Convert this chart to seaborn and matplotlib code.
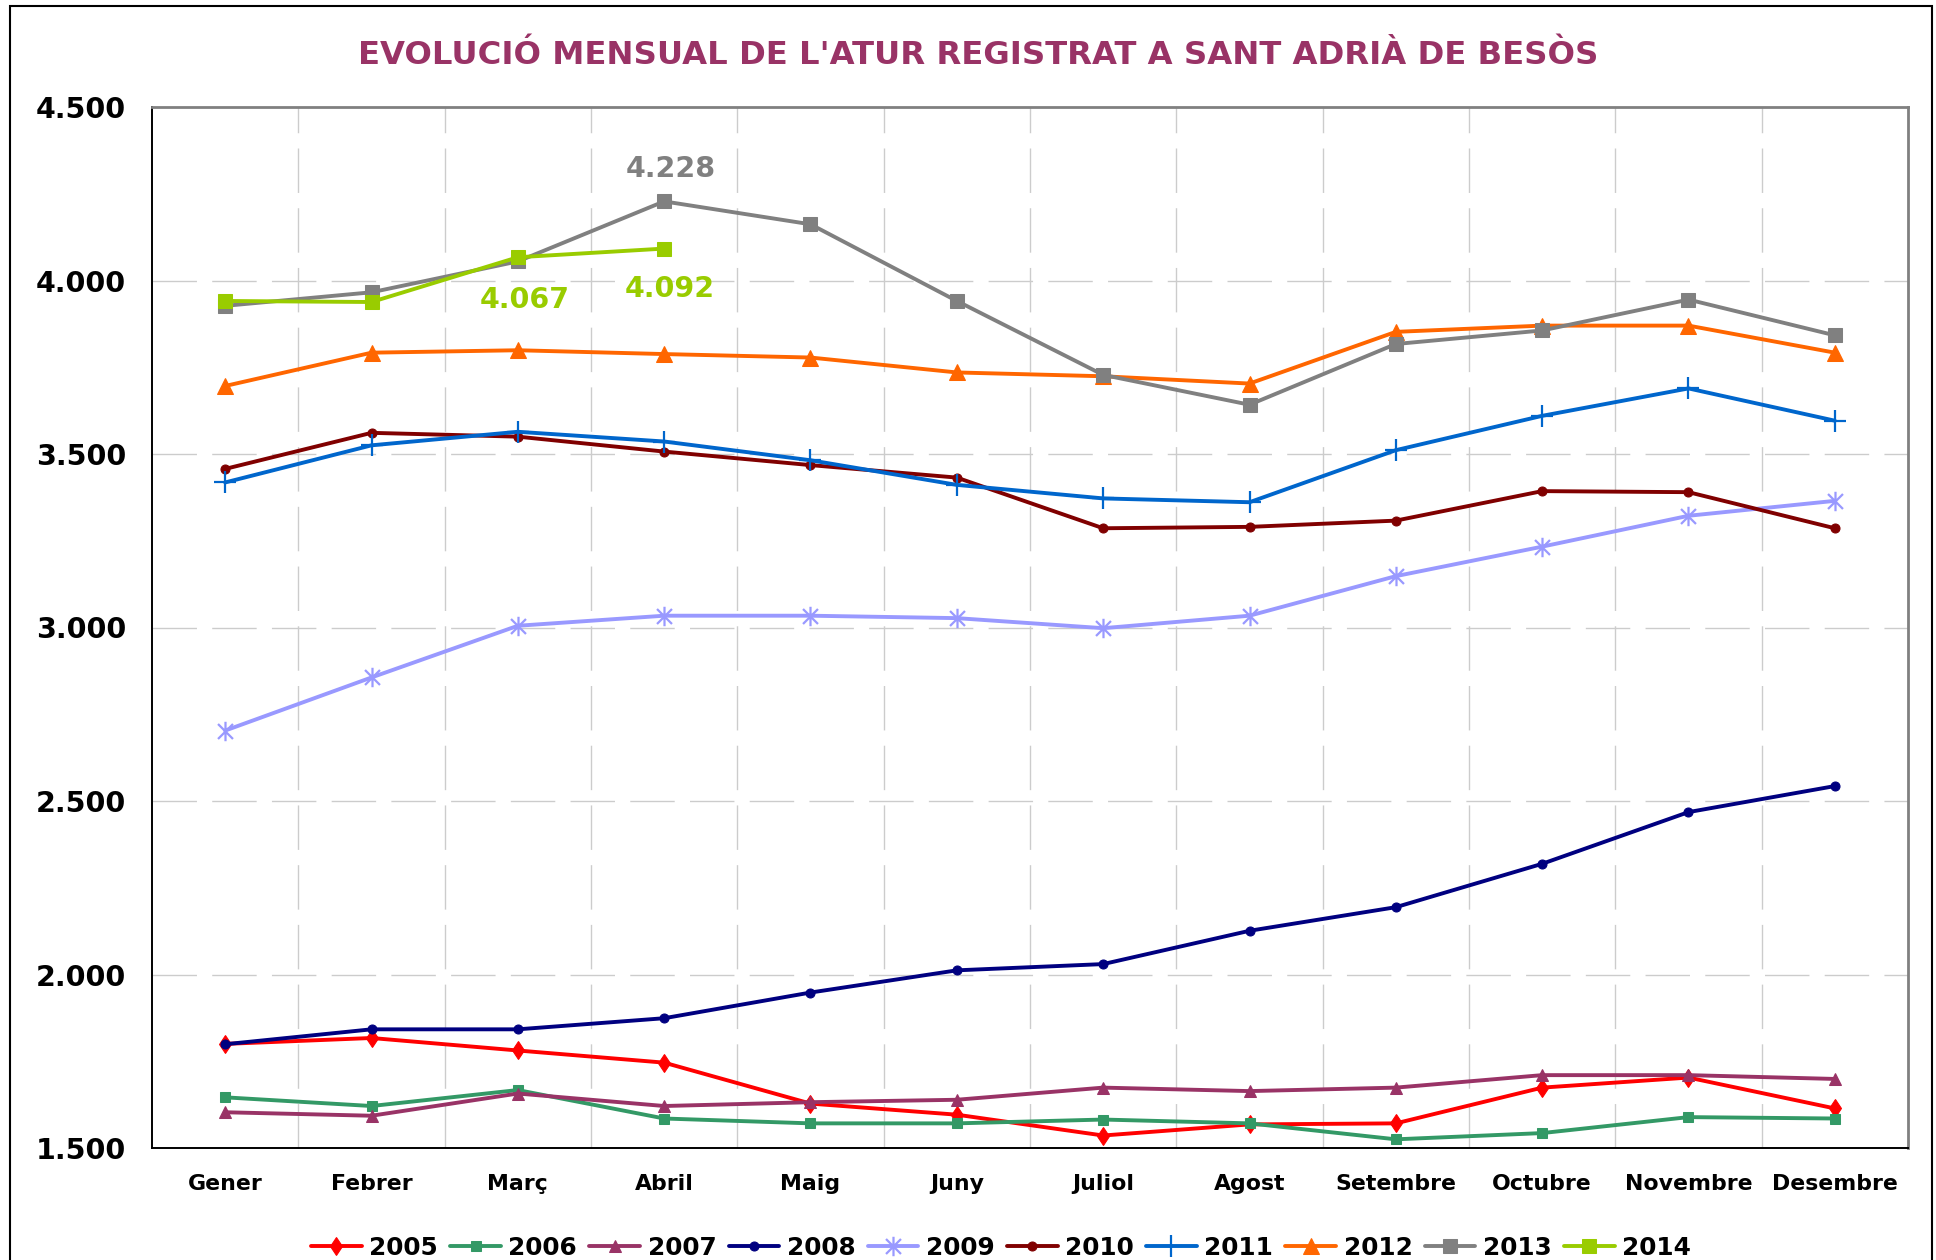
import numpy as np
import pandas as pd
import matplotlib
matplotlib.use("Agg")
import matplotlib.pyplot as plt
import seaborn as sns
from matplotlib.path import Path
from matplotlib.patches import Rectangle
from matplotlib.ticker import FuncFormatter, FixedLocator

# ---------------- data ----------------
months = ["Gener", "Febrer", "Març", "Abril", "Maig", "Juny", "Juliol",
          "Agost", "Setembre", "Octubre", "Novembre", "Desembre"]

y2005 = [1800, 1817, 1781, 1746, 1628, 1596, 1536, 1568, 1571, 1674, 1703, 1614]
y2006 = [1646, 1621, 1667, 1585, 1571, 1571, 1582, 1571, 1525, 1543, 1589, 1585]
y2007 = [1603, 1593, 1657, 1621, 1632, 1639, 1674, 1664, 1674, 1710, 1710, 1699]
y2008 = [1799, 1842, 1842, 1874, 1948, 2012, 2030, 2126, 2194, 2319, 2468, 2543]
y2009 = [2703, 2856, 3005, 3034, 3034, 3027, 2998, 3034, 3148, 3233, 3322, 3365]
y2010 = [3457, 3561, 3550, 3507, 3468, 3432, 3286, 3290, 3308, 3393, 3390, 3286]
y2011 = [3418, 3525, 3564, 3536, 3482, 3411, 3372, 3361, 3511, 3610, 3689, 3596]
y2012 = [3696, 3792, 3799, 3788, 3778, 3735, 3724, 3703, 3852, 3870, 3870, 3792]
y2013 = [3927, 3966, 4055, 4228, 4162, 3941, 3728, 3642, 3817, 3856, 3945, 3842]
y2014 = [3941, 3938, 4067, 4092]

years = ["2005", "2006", "2007", "2008", "2009", "2010", "2011", "2012", "2013", "2014"]
series = [y2005, y2006, y2007, y2008, y2009, y2010, y2011, y2012, y2013, y2014]
colors = ["#FF0000", "#339966", "#993366", "#000080", "#9999FF",
          "#800000", "#0066CC", "#FF6600", "#808080", "#99CC00"]

title = "EVOLUCIÓ MENSUAL DE L'ATUR REGISTRAT A SANT ADRIÀ DE BESÒS"
yticks = [1500, 2000, 2500, 3000, 3500, 4000, 4500]

# ---------------- style ----------------
sns.set_theme(style="white")
plt.rcParams['font.family'] = ['DejaVu Sans']
plt.rcParams['text.color'] = 'black'

# Excel-style star marker (x plus vertical bar)
star = Path([(-1, -1), (1, 1), (-1, 1), (1, -1), (0, -1.3), (0, 1.3)],
            [Path.MOVETO, Path.LINETO, Path.MOVETO, Path.LINETO, Path.MOVETO, Path.LINETO])

marker_styles = {
    "2005": dict(marker="d", markersize=9.5),
    "2006": dict(marker="s", markersize=7),
    "2007": dict(marker="^", markersize=8.5),
    "2008": dict(marker="o", markersize=6.5),
    "2009": dict(marker=star, markersize=14, markeredgewidth=1.6),
    "2010": dict(marker="o", markersize=6.5),
    "2011": dict(marker="+", markersize=16, markeredgewidth=1.6),
    "2012": dict(marker="^", markersize=11),
    "2013": dict(marker="s", markersize=10),
    "2014": dict(marker="s", markersize=10),
}

W, H = 1936, 1260
fig = plt.figure(figsize=(W / 100, H / 100), dpi=100)
fig.patch.set_facecolor("white")
ax = fig.add_axes([152 / W, 1 - 1148 / H, (1908 - 152) / W, (1148 - 107) / H])

rows = []
for yr, vals in zip(years, series):
    for i, v in enumerate(vals):
        rows.append({"year": yr, "pos": i, "value": v})
df = pd.DataFrame(rows)

for yr, col in zip(years, colors):
    sub = df[df["year"] == yr]
    st = marker_styles[yr]
    sns.lineplot(data=sub, x="pos", y="value", ax=ax, color=col, linewidth=2.8,
                 markeredgecolor=col, markerfacecolor=col, label=yr,
                 **st)

# axes limits
ax.set_xlim(-0.5, len(months) - 0.5)
ax.set_ylim(1500, 4500)
ax.set_xlabel("")
ax.set_ylabel("")

# y axis
ax.yaxis.set_major_locator(FixedLocator(yticks))
ax.yaxis.set_major_formatter(FuncFormatter(lambda v, p: f"{int(v):,}".replace(",", ".")))
ax.tick_params(axis="y", which="major", direction="out", length=6.5, width=1.3,
               color="black", pad=12, labelsize=20.5, labelcolor="black")
for lab in ax.get_yticklabels():
    lab.set_fontweight("bold")

# x axis
ax.set_xticks(range(len(months)))
ax.set_xticklabels(months, fontweight="bold", fontsize=15.8, color="black")
ax.tick_params(axis="x", which="major", length=0, pad=19, labelcolor="black")
ax.set_xticks(np.arange(-0.5, len(months)), minor=True)
ax.tick_params(axis="x", which="minor", direction="out", length=6.5, width=1.3, color="black")

# grids
gridstyle = dict(color="#CCCCCC", linewidth=1.0, linestyle=(0, (32, 11)))
for yv in yticks[1:-1]:
    ax.axhline(yv, zorder=0, **gridstyle)
for xv in np.arange(0.5, len(months) - 1):
    ax.axvline(xv, zorder=0, **gridstyle)

# spines
for s in ["left", "bottom"]:
    ax.spines[s].set_color("black")
    ax.spines[s].set_linewidth(1.4)
for s in ["top", "right"]:
    ax.spines[s].set_color("#808080")
    ax.spines[s].set_linewidth(2)

# data labels
ax.annotate("4.228", xy=(3, y2013[3]), xytext=(5, 23.5), textcoords="offset points",
            ha="center", va="center", fontsize=20.5, fontweight="bold", color="#808080")
ax.annotate("4.067", xy=(2, y2014[2]), xytext=(5, -31), textcoords="offset points",
            ha="center", va="center", fontsize=20.5, fontweight="bold", color="#99CC00")
ax.annotate("4.092", xy=(3, y2014[3]), xytext=(4, -29), textcoords="offset points",
            ha="center", va="center", fontsize=20.5, fontweight="bold", color="#99CC00")

# title
fig.text(978 / W, 1 - 55 / H, title, ha="center", va="center", fontsize=23.2,
         fontweight="bold", color="#993366")

# legend
if ax.get_legend():
    ax.get_legend().remove()
handles, labels = ax.get_legend_handles_labels()
leg = fig.legend(handles, labels, loc="center", bbox_to_anchor=(1001 / W, 1 - 1248 / H),
                 ncol=10, frameon=False, numpoints=1, handlelength=2.05,
                 handletextpad=0.3, columnspacing=0.5,
                 prop={"weight": "bold", "size": 17.8})
for t in leg.get_texts():
    t.set_color("black")

# figure border
fig.patches.append(Rectangle((10 / W, -0.05), (1932 - 10) / W, 1.05 - 6 / H,
                             transform=fig.transFigure, fill=False,
                             edgecolor="black", linewidth=1.5, zorder=10))

fig.savefig("out.png", dpi=100, facecolor="white")
